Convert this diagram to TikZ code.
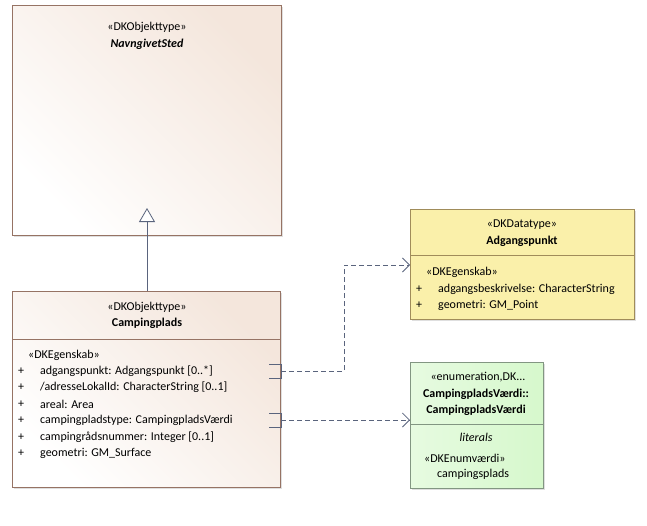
\documentclass[tikz,border=0pt]{standalone}
\usepackage{fontspec}
\setmainfont{Carlito}
\usetikzlibrary{positioning, arrows.meta, shadows}
\definecolor{objfill}{RGB}{244,230,220}
\definecolor{objline}{RGB}{150,115,100}
\definecolor{dtfill}{RGB}{250,240,170}
\definecolor{dtline}{RGB}{160,140,90}
\definecolor{enfill}{RGB}{214,248,204}
\definecolor{enline}{RGB}{130,150,130}
\definecolor{conn}{RGB}{90,100,125}
\begin{document}
\begin{tikzpicture}[x=1pt, y=-1pt,
    every node/.style={font=\fontsize{12}{14}\selectfont, inner sep=0pt},
    box/.style={draw, anchor=north west, inner sep=0pt, drop shadow={shadow xshift=2pt, shadow yshift=-2pt, fill=black!25}},
    objbox/.style={box, draw=objline, left color=white, right color=objfill, shading angle=135},
    dtbox/.style={box, draw=dtline, fill=dtfill},
    enbox/.style={box, draw=enline, left color=enfill!60, right color=enfill},
    attr/.style={anchor=west},
    link/.style={conn, dashed, dash pattern=on 5pt off 3pt, thick, -{Straight Barb[length=7pt, width=14pt]}},
    gen/.style={conn, thick, -{Triangle[open, length=14pt, width=16pt, fill=white]}}
]
    \useasboundingbox (0,0) rectangle (647,525);

    % NavngivetSted
    \node (sted) [objbox, minimum width=269pt, minimum height=230pt] at (12,5) {};
    \node (stedst) at (147,27) {«DKObjekttype»};
    \node (stedname) at (147,44) {\textbf{\textit{NavngivetSted}}};

    % Campingplads
    \node (camp) [objbox, minimum width=268pt, minimum height=196pt] at (12,291) {};
    \draw[objline] (12,339) -- (280,339);
    \node (campst) at (147,307) {«DKObjekttype»};
    \node (campname) at (147,323) {\textbf{Campingplads}};
    \node [attr] at (28,355) {«DKEgenskab»};
    \foreach \y/\t in {371/{adgangspunkt: Adgangspunkt [0..*]},
                       387/{/adresseLokalId: CharacterString [0..1]},
                       404/{areal: Area},
                       420/{campingpladstype: CampingpladsVærdi},
                       437/{campingrådsnummer: Integer [0..1]},
                       453/{geometri: GM\_Surface}} {
        \node [attr] at (18,\y) {+};
        \node [attr] at (40,\y) {\t};
    }

    % Adgangspunkt
    \node (adg) [dtbox, minimum width=224pt, minimum height=110pt] at (410,209) {};
    \draw[dtline] (410,255) -- (634,255);
    \node (adgst) at (522,225) {«DKDatatype»};
    \node (adgname) at (522,241) {\textbf{Adgangspunkt}};
    \node [attr] at (426,272) {«DKEgenskab»};
    \node [attr] at (416,289) {+};
    \node [attr] at (438,289) {adgangsbeskrivelse: CharacterString};
    \node [attr] at (416,305) {+};
    \node [attr] at (438,305) {geometri: GM\_Point};

    % CampingpladsVaerdi
    \node (enum) [enbox, minimum width=133pt, minimum height=126pt] at (410,362) {};
    \draw[enline] (410,424) -- (543,424);
    \node (enumst) at (478,377) {«enumeration,DK...};
    \node (enumname) at (476,394) {\textbf{CampingpladsVærdi::}};
    \node (enumname2) at (476,410) {\textbf{CampingpladsVærdi}};
    \node (lit) at (476,437) {\textit{literals}};
    \node [attr] at (424,458) {«DKEnumværdi»};
    \node [attr] at (437,474) {campingsplads};

    % connectors
    \coordinate (gsrc) at (147,291);
    \coordinate (gdst) at (147,208);
    \draw[gen] (gsrc) -- (gdst);

    \coordinate (p1) at (281,371);
    \coordinate (q1) at (410,265);
    \coordinate (p2) at (281,420);
    \coordinate (q2) at (410,420);
    \draw[conn, thick] (269,364) -- (281,364) -- (281,378) -- (269,378);
    \draw[conn, thick] (269,413) -- (281,413) -- (281,427) -- (269,427);
    \draw[link] (p1) -- (344,371) -- (344,265) -- (q1);
    \draw[link] (p2) -- (q2);
\end{tikzpicture}
\end{document}
